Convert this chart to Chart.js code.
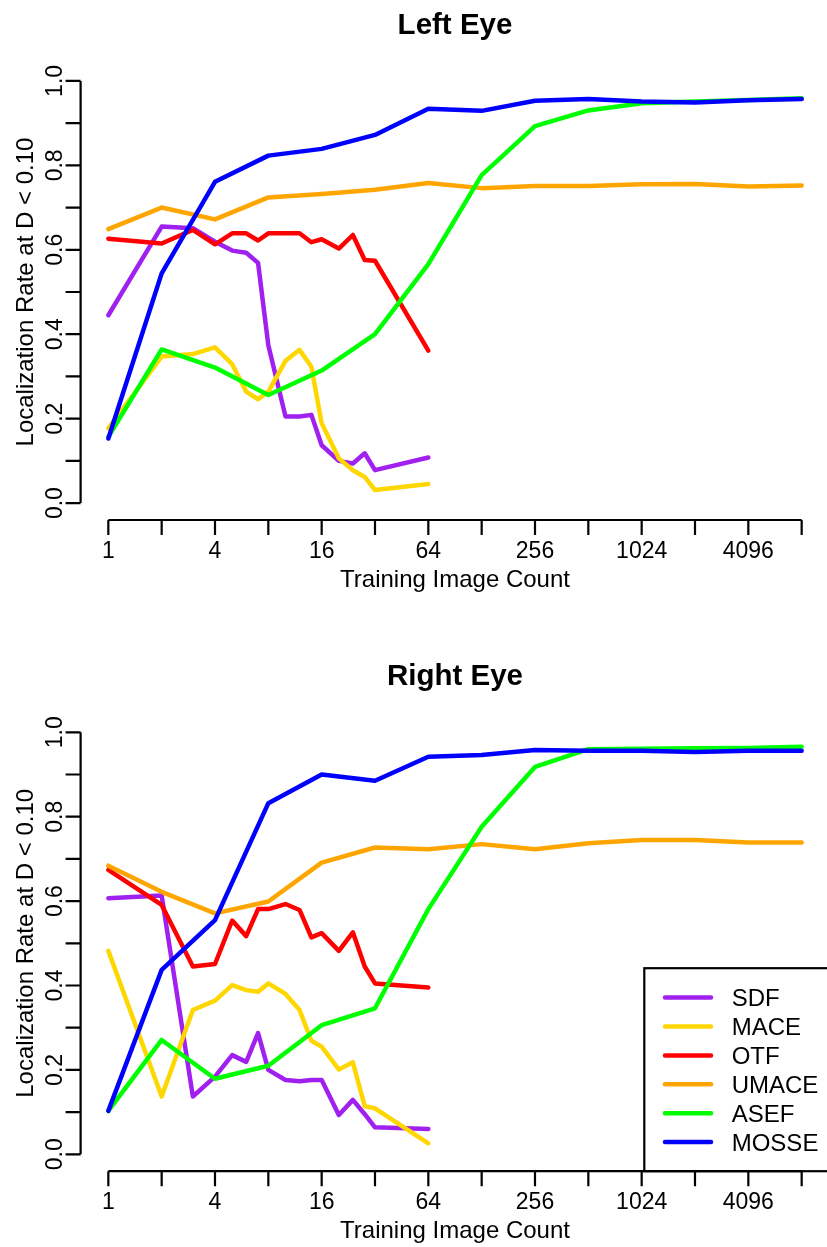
<!DOCTYPE html>
<html>
<head>
<meta charset="utf-8">
<script src="https://cdn.jsdelivr.net/npm/chart.js@4.4.1/dist/chart.umd.min.js"></script>
<style>
  html, body { margin: 0; padding: 0; background: #fff; overflow: hidden; width: 827px; height: 1247px; }
  canvas { position: absolute; left: 0; }
  #cLeft { top: 0; }
  #cRight { top: 651px; }
</style>
</head>
<body>
<canvas id="cLeft" width="840" height="620" style="width:840px;height:620px"></canvas>
<canvas id="cRight" width="840" height="596" style="width:840px;height:596px"></canvas>
<script>
// ---------------- data ----------------
const seriesNames = ['SDF', 'MACE', 'OTF', 'UMACE', 'ASEF', 'MOSSE'];
const seriesColors = ['#A020F0', '#FFD700', '#FF0000', '#FFA500', '#00FF00', '#0000FF'];

// training image counts
const countsFine = [1, 2, 3, 4, 5, 6, 7, 8, 10, 12, 14, 16, 20, 24, 28, 32, 64];
const countsPow2 = [1, 2, 4, 8, 16, 32, 64, 128, 256, 512, 1024, 2048, 4096, 8192];

// Left eye
const leftSDF   = [0.445, 0.655, 0.651, 0.619, 0.598, 0.593, 0.569, 0.374, 0.205, 0.205, 0.209, 0.137, 0.100, 0.094, 0.118, 0.078, 0.108];
const leftMACE  = [0.177, 0.347, 0.353, 0.369, 0.329, 0.264, 0.246, 0.264, 0.337, 0.363, 0.323, 0.189, 0.106, 0.078, 0.062, 0.031, 0.045];
const leftOTF   = [0.626, 0.615, 0.647, 0.613, 0.639, 0.639, 0.622, 0.639, 0.639, 0.639, 0.618, 0.625, 0.603, 0.635, 0.576, 0.574, 0.361];
const leftUMACE = [0.649, 0.700, 0.672, 0.724, 0.732, 0.742, 0.758, 0.746, 0.751, 0.751, 0.755, 0.756, 0.750, 0.752];
const leftASEF  = [0.157, 0.364, 0.321, 0.256, 0.314, 0.400, 0.566, 0.777, 0.893, 0.930, 0.947, 0.951, 0.955, 0.959];
const leftMOSSE = [0.153, 0.544, 0.761, 0.823, 0.839, 0.872, 0.934, 0.929, 0.953, 0.957, 0.951, 0.949, 0.954, 0.957];

// Right eye
const rightSDF   = [0.607, 0.613, 0.137, 0.184, 0.235, 0.219, 0.287, 0.200, 0.176, 0.173, 0.176, 0.176, 0.093, 0.129, 0.095, 0.064, 0.060];
const rightMACE  = [0.482, 0.137, 0.342, 0.364, 0.401, 0.389, 0.385, 0.405, 0.380, 0.342, 0.269, 0.255, 0.201, 0.218, 0.114, 0.109, 0.026];
const rightOTF   = [0.674, 0.591, 0.445, 0.451, 0.554, 0.517, 0.581, 0.581, 0.593, 0.579, 0.514, 0.524, 0.482, 0.526, 0.445, 0.405, 0.395];
const rightUMACE = [0.684, 0.622, 0.571, 0.599, 0.691, 0.727, 0.723, 0.735, 0.723, 0.737, 0.745, 0.745, 0.739, 0.739];
const rightASEF  = [0.103, 0.271, 0.179, 0.210, 0.306, 0.346, 0.581, 0.776, 0.918, 0.960, 0.961, 0.962, 0.963, 0.966];
const rightMOSSE = [0.103, 0.437, 0.555, 0.832, 0.900, 0.885, 0.942, 0.946, 0.958, 0.956, 0.956, 0.953, 0.956, 0.956];

// axes
const xTicks = [1, 2, 4, 8, 16, 32, 64, 128, 256, 512, 1024, 2048, 4096, 8192];
const xTickLabels = ['1', '', '4', '', '16', '', '64', '', '256', '', '1024', '', '4096', ''];
const yTicks = [0, 0.1, 0.2, 0.3, 0.4, 0.5, 0.6, 0.7, 0.8, 0.9, 1.0];
const yTickLabels = ['0.0', '', '0.2', '', '0.4', '', '0.6', '', '0.8', '', '1.0'];
const xTitle = 'Training Image Count';
const yTitle = 'Localization Rate at D < 0.10';

// ---------------- drawing ----------------
const FONT = '"Liberation Sans", Arial, Helvetica, sans-serif';

function pts(xs, ys) { return ys.map((v, i) => ({ x: xs[i], y: v })); }

const rStyle = {
  id: 'rStyle',
  afterDatasetsDraw(chart, args, opts) {
    const { ctx, chartArea: a, scales: { x, y } } = chart;
    ctx.save();
    ctx.strokeStyle = '#000';
    ctx.fillStyle = '#000';
    ctx.lineWidth = 2.2;
    ctx.lineCap = 'butt';
    const tl = 15;
    // x axis
    ctx.beginPath();
    ctx.moveTo(x.getPixelForValue(xTicks[0]), a.bottom);
    ctx.lineTo(x.getPixelForValue(xTicks[xTicks.length - 1]), a.bottom);
    xTicks.forEach(v => {
      const px = x.getPixelForValue(v);
      ctx.moveTo(px, a.bottom);
      ctx.lineTo(px, a.bottom + tl);
    });
    // y axis
    ctx.moveTo(a.left, y.getPixelForValue(yTicks[0]));
    ctx.lineTo(a.left, y.getPixelForValue(yTicks[yTicks.length - 1]));
    yTicks.forEach(v => {
      const py = y.getPixelForValue(v);
      ctx.moveTo(a.left, py);
      ctx.lineTo(a.left - tl, py);
    });
    ctx.stroke();

    // tick labels
    ctx.font = '23px ' + FONT;
    ctx.textAlign = 'center';
    ctx.textBaseline = 'alphabetic';
    xTicks.forEach((v, i) => {
      if (xTickLabels[i]) ctx.fillText(xTickLabels[i], x.getPixelForValue(v), a.bottom + 38);
    });
    yTicks.forEach((v, i) => {
      if (!yTickLabels[i]) return;
      ctx.save();
      ctx.translate(a.left - 19, y.getPixelForValue(v));
      ctx.rotate(-Math.PI / 2);
      ctx.fillText(yTickLabels[i], 0, 0);
      ctx.restore();
    });

    // axis titles
    ctx.font = '24px ' + FONT;
    const xMid = (x.getPixelForValue(xTicks[0]) + x.getPixelForValue(xTicks[xTicks.length - 1])) / 2;
    ctx.fillText(xTitle, xMid, a.bottom + 66.5);
    const yMid = (y.getPixelForValue(0) + y.getPixelForValue(1)) / 2;
    ctx.save();
    ctx.translate(a.left - 47.6, yMid);
    ctx.rotate(-Math.PI / 2);
    ctx.fillText(yTitle, 0, 0);
    ctx.restore();

    // main title
    ctx.font = 'bold 29.5px ' + FONT;
    ctx.fillText(opts.title, (a.left + a.right) / 2, a.top - 30.5);

    // legend
    if (opts.legend) {
      const w = 185.1, h = 203;
      const bx = a.right - w, by = a.bottom - h;
      ctx.lineWidth = 2.2;
      ctx.strokeRect(bx, by, w, h);
      ctx.font = '24px ' + FONT;
      ctx.textAlign = 'left';
      ctx.lineCap = 'round';
      seriesNames.forEach((name, i) => {
        const ry = by + 29.4 + i * 28.9;
        ctx.strokeStyle = seriesColors[i];
        ctx.lineWidth = 4.5;
        ctx.beginPath();
        ctx.moveTo(bx + 20.7, ry);
        ctx.lineTo(bx + 66.7, ry);
        ctx.stroke();
        ctx.fillStyle = '#000';
        ctx.fillText(name, bx + 87.4, ry + 8.5);
      });
    }
    ctx.restore();
  }
};

function makeChart(id, title, series, pad, legend) {
  const xsets = [countsFine, countsFine, countsFine, countsPow2, countsPow2, countsPow2];
  const datasets = seriesNames.map((name, i) => ({
    label: name,
    data: pts(xsets[i], series[i]),
    borderColor: seriesColors[i],
    backgroundColor: seriesColors[i],
    borderWidth: 4.5,
    borderCapStyle: 'round',
    borderJoinStyle: 'round',
    pointRadius: 0,
    tension: 0,
    fill: false,
    order: seriesNames.length - i
  }));
  return new Chart(document.getElementById(id), {
    type: 'line',
    data: { datasets },
    options: {
      responsive: false,
      animation: false,
      devicePixelRatio: 1,
      layout: { padding: pad },
      events: [],
      scales: {
        x: {
          type: 'logarithmic',
          display: false,
          bounds: 'data',
          min: Math.pow(2, -0.52),
          max: Math.pow(2, 13.52)
        },
        y: {
          type: 'linear',
          display: false,
          bounds: 'data',
          min: -0.04,
          max: 1.04
        }
      },
      plugins: {
        legend: { display: false },
        tooltip: { enabled: false },
        rStyle: { title, legend }
      }
    },
    plugins: [rStyle]
  });
}

makeChart('cLeft', 'Left Eye',
  [leftSDF, leftMACE, leftOTF, leftUMACE, leftASEF, leftMOSSE],
  { left: 80.6, right: 10.6, top: 64, bottom: 100 }, false);

makeChart('cRight', 'Right Eye',
  [rightSDF, rightMACE, rightOTF, rightUMACE, rightASEF, rightMOSSE],
  { left: 80.6, right: 10.6, top: 64.4, bottom: 75.8 }, true);
</script>
</body>
</html>
